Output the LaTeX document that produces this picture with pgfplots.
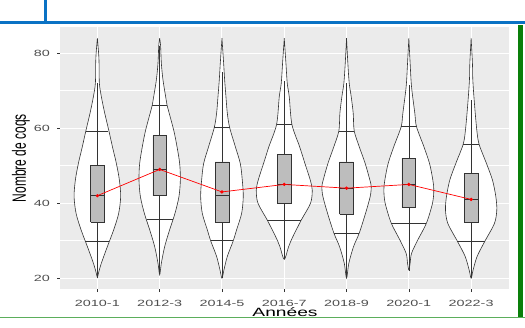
\documentclass[border=0pt]{standalone}
\usepackage{pgfplots}
\pgfplotsset{compat=1.18}
\usepackage{pgfplotstable}
\usepackage{fontspec}
\setmainfont{Liberation Sans}
\usepackage{graphicx}

\definecolor{panelbg}{HTML}{EBEBEB}
\definecolor{grey20}{HTML}{333333}
\definecolor{grey30}{HTML}{4D4D4D}
\definecolor{boxfill}{HTML}{BDBDBD}
\definecolor{frameblue}{HTML}{0A72C4}
\definecolor{framegreen}{HTML}{0A7F0A}
\definecolor{lightgreen}{HTML}{5BAE5B}

\newcommand{\sx}[1]{\scalebox{1.6}[1]{#1}}

% violin outlines: y value and signed half-width (axis units), right side down, left side up
\pgfplotstableread{
y w
84.0 0
80.0 0.020
77.3 0.027
72.0 0.032
68.4 0.064
64.0 0.118
59.5 0.182
55.1 0.241
50.6 0.305
46.2 0.353
41.8 0.374
37.3 0.342
32.9 0.262
28.4 0.160
24.0 0.064
21.5 0.020
20.2 0
21.5 -0.020
24.0 -0.064
28.4 -0.160
32.9 -0.262
37.3 -0.342
41.8 -0.374
46.2 -0.353
50.6 -0.305
55.1 -0.241
59.5 -0.182
64.0 -0.118
68.4 -0.064
72.0 -0.032
77.3 -0.027
80.0 -0.020
84.0 0
}\vA
\pgfplotstableread{
y w
84.0 0
82.0 0.015
77.3 0.027
72.9 0.053
68.4 0.096
66.2 0.118
59.5 0.225
55.1 0.278
50.6 0.321
46.2 0.332
41.8 0.310
37.3 0.246
32.9 0.160
28.4 0.080
24.0 0.027
20.9 0
24.0 -0.027
28.4 -0.080
32.9 -0.160
37.3 -0.246
41.8 -0.310
46.2 -0.332
50.6 -0.321
55.1 -0.278
59.5 -0.225
66.2 -0.118
68.4 -0.096
72.9 -0.053
77.3 -0.027
82.0 -0.015
84.0 0
}\vB
\pgfplotstableread{
y w
84.0 0
77.3 0.027
72.9 0.043
68.4 0.064
64.0 0.086
60.2 0.123
55.1 0.214
50.6 0.294
46.2 0.326
41.8 0.342
37.3 0.316
32.9 0.235
30.0 0.182
25.8 0.086
22.2 0.032
20.0 0
22.2 -0.032
25.8 -0.086
30.0 -0.182
32.9 -0.235
37.3 -0.316
41.8 -0.342
46.2 -0.326
50.6 -0.294
55.1 -0.214
60.2 -0.123
64.0 -0.086
68.4 -0.064
72.9 -0.043
77.3 -0.027
84.0 0
}\vC
\pgfplotstableread{
y w
84.0 0
77.3 0.027
72.0 0.048
68.4 0.080
61.0 0.123
55.1 0.246
50.6 0.332
46.2 0.417
43.5 0.449
40.0 0.422
35.5 0.273
31.1 0.139
28.4 0.070
25.0 0
28.4 -0.070
31.1 -0.139
35.5 -0.273
40.0 -0.422
43.5 -0.449
46.2 -0.417
50.6 -0.332
55.1 -0.246
61.0 -0.123
68.4 -0.080
72.0 -0.048
77.3 -0.027
84.0 0
}\vD
\pgfplotstableread{
y w
84.0 0
77.3 0.021
72.0 0.043
68.4 0.075
64.0 0.107
59.3 0.123
55.1 0.203
50.6 0.299
46.2 0.374
44.4 0.396
41.8 0.380
37.3 0.305
32.0 0.203
28.4 0.112
24.0 0.037
20.0 0
24.0 -0.037
28.4 -0.112
32.0 -0.203
37.3 -0.305
41.8 -0.380
44.4 -0.396
46.2 -0.374
50.6 -0.299
55.1 -0.203
59.3 -0.123
64.0 -0.107
68.4 -0.075
72.0 -0.043
77.3 -0.021
84.0 0
}\vE
\pgfplotstableread{
y w
84.0 0
77.3 0.021
71.1 0.043
64.0 0.096
60.4 0.123
55.1 0.241
50.6 0.332
46.2 0.385
43.5 0.401
40.0 0.380
34.7 0.283
30.2 0.144
26.6 0.043
24.0 0.021
22.2 0
24.0 -0.021
26.6 -0.043
30.2 -0.144
34.7 -0.283
40.0 -0.380
43.5 -0.401
46.2 -0.385
50.6 -0.332
55.1 -0.241
60.4 -0.123
64.0 -0.096
71.1 -0.043
77.3 -0.021
84.0 0
}\vF
\pgfplotstableread{
y w
84.0 0
77.3 0.021
72.9 0.027
66.6 0.053
59.5 0.091
55.7 0.128
50.6 0.246
46.2 0.342
41.8 0.396
38.2 0.412
34.6 0.374
29.8 0.219
25.8 0.096
22.2 0.032
20.0 0
22.2 -0.032
25.8 -0.096
29.8 -0.219
34.6 -0.374
38.2 -0.412
41.8 -0.396
46.2 -0.342
50.6 -0.246
55.7 -0.128
59.5 -0.091
66.6 -0.053
72.9 -0.027
77.3 -0.021
84.0 0
}\vG

\newcommand{\violin}[2]{%
  \addplot[draw=grey20, fill=white, line width=0.6bp, smooth, tension=0.5] table[x expr=#1+\thisrow{w}, y=y]{#2};
}

\begin{document}
\begin{tikzpicture}
\begin{axis}[
  scale only axis, width=448.5bp, height=262bp,
  xmin=0.4, xmax=7.6, ymin=17.1, ymax=87.0,
  axis background/.style={fill=panelbg},
  axis line style={draw=none},
  xtick={1,2,3,4,5,6,7},
  xticklabels={\sx{2010-1},\sx{2012-3},\sx{2014-5},\sx{2016-7},\sx{2018-9},\sx{2020-1},\sx{2022-3}},
  ytick={20,40,60,80},
  yticklabels={\sx{20},\sx{40},\sx{60},\sx{80}},
  minor ytick={30,50,70},
  grid=both,
  major grid style={white, line width=1.07bp},
  minor grid style={white, line width=0.55bp},
  tick pos=left, tick align=outside,
  major tick length=3bp, minor tick length=0pt,
  tick style={grey20, line width=0.55bp},
  xticklabel style={font=\fontsize{9bp}{10bp}\selectfont, text=grey30, anchor=base, inner sep=0pt, yshift=-14bp},
  yticklabel style={font=\fontsize{9bp}{10bp}\selectfont, text=grey30, anchor=east, inner sep=0pt, xshift=-7bp},
]
% violins
\violin{1}{\vA}
\violin{2}{\vB}
\violin{3}{\vC}
\violin{4}{\vD}
\violin{5}{\vE}
\violin{6}{\vF}
\violin{7}{\vG}

% quantile lines
\addplot[grey20, line width=0.6bp] coordinates {(0.823,59.1) (1.177,59.1)};
\addplot[grey20, line width=0.6bp] coordinates {(0.806,29.9) (1.194,29.9)};
\addplot[grey20, line width=0.6bp] coordinates {(1.882,66.2) (2.118,66.2)};
\addplot[grey20, line width=0.6bp] coordinates {(1.790,35.7) (2.210,35.7)};
\addplot[grey20, line width=0.6bp] coordinates {(2.877,60.2) (3.123,60.2)};
\addplot[grey20, line width=0.6bp] coordinates {(2.818,30.0) (3.182,30.0)};
\addplot[grey20, line width=0.6bp] coordinates {(3.877,61.0) (4.123,61.0)};
\addplot[grey20, line width=0.6bp] coordinates {(3.727,35.5) (4.273,35.5)};
\addplot[grey20, line width=0.6bp] coordinates {(4.877,59.3) (5.123,59.3)};
\addplot[grey20, line width=0.6bp] coordinates {(4.797,32.0) (5.203,32.0)};
\addplot[grey20, line width=0.6bp] coordinates {(5.877,60.4) (6.123,60.4)};
\addplot[grey20, line width=0.6bp] coordinates {(5.717,34.7) (6.283,34.7)};
\addplot[grey20, line width=0.6bp] coordinates {(6.872,55.7) (7.128,55.7)};
\addplot[grey20, line width=0.6bp] coordinates {(6.781,29.8) (7.219,29.8)};

% whiskers
\addplot[grey20, line width=0.6bp] coordinates {(1,20) (1,72)};
\addplot[grey20, line width=0.6bp] coordinates {(2,21) (2,82)};
\addplot[grey20, line width=0.6bp] coordinates {(3,20) (3,75)};
\addplot[grey20, line width=0.6bp] coordinates {(4,25) (4,72.5)};
\addplot[grey20, line width=0.6bp] coordinates {(5,20) (5,72)};
\addplot[grey20, line width=0.6bp] coordinates {(6,22) (6,71.5)};
\addplot[grey20, line width=0.6bp] coordinates {(7,20) (7,67.5)};

% boxes (Q1 to Q3)
\addplot[grey20, fill=boxfill, line width=0.6bp] coordinates {(0.89,35) (1.11,35) (1.11,50) (0.89,50) (0.89,35)};
\addplot[grey20, fill=boxfill, line width=0.6bp] coordinates {(1.89,42) (2.11,42) (2.11,58) (1.89,58) (1.89,42)};
\addplot[grey20, fill=boxfill, line width=0.6bp] coordinates {(2.89,35) (3.11,35) (3.11,51) (2.89,51) (2.89,35)};
\addplot[grey20, fill=boxfill, line width=0.6bp] coordinates {(3.89,40) (4.11,40) (4.11,53) (3.89,53) (3.89,40)};
\addplot[grey20, fill=boxfill, line width=0.6bp] coordinates {(4.89,37) (5.11,37) (5.11,51) (4.89,51) (4.89,37)};
\addplot[grey20, fill=boxfill, line width=0.6bp] coordinates {(5.89,39) (6.11,39) (6.11,52) (5.89,52) (5.89,39)};
\addplot[grey20, fill=boxfill, line width=0.6bp] coordinates {(6.89,35) (7.11,35) (7.11,48) (6.89,48) (6.89,35)};

% medians
\addplot[grey20, line width=1.3bp] coordinates {(0.89,42) (1.11,42)};
\addplot[grey20, line width=1.3bp] coordinates {(1.89,49) (2.11,49)};
\addplot[grey20, line width=1.3bp] coordinates {(2.89,42) (3.11,42)};
\addplot[grey20, line width=1.3bp] coordinates {(3.89,45) (4.11,45)};
\addplot[grey20, line width=1.3bp] coordinates {(4.89,44) (5.11,44)};
\addplot[grey20, line width=1.3bp] coordinates {(5.89,45) (6.11,45)};
\addplot[grey20, line width=1.3bp] coordinates {(6.89,41) (7.11,41)};

% means
\addplot[red, line width=0.7bp, mark=*, mark size=1.3bp, mark options={fill=red, draw=red}]
  coordinates {(1,42) (2,49) (3,43) (4,45) (5,44) (6,45) (7,41)};
\coordinate (O) at (rel axis cs:0,0);
\end{axis}
\pgfresetboundingbox
\begin{scope}[shift={(O)}, x=1bp, y=1bp, xshift=-60bp, yshift=-38bp]
\path[use as bounding box] (0,0) rectangle (525,327);
% axis titles
\node[anchor=base, inner sep=0pt, font=\fontsize{12bp}{14bp}\selectfont] at (285,10.5) {\sx{Années}};
\node[anchor=base, rotate=90, inner sep=0pt, font=\fontsize{12bp}{14bp}\selectfont] at (26,169) {\scalebox{1}[1.6]{Nombre de coqs}};
% page frame decorations
\draw[frameblue, line width=3.5bp] (0,304.3) -- (525,304.3);
\draw[frameblue, line width=3.5bp] (45.5,327) -- (45.5,304.3);
\fill[framegreen] (518,9.3) rectangle (523,302.5);
\draw[lightgreen, line width=1.2bp] (0,9.3) -- (525,9.3);
\end{scope}
\end{tikzpicture}
\end{document}
